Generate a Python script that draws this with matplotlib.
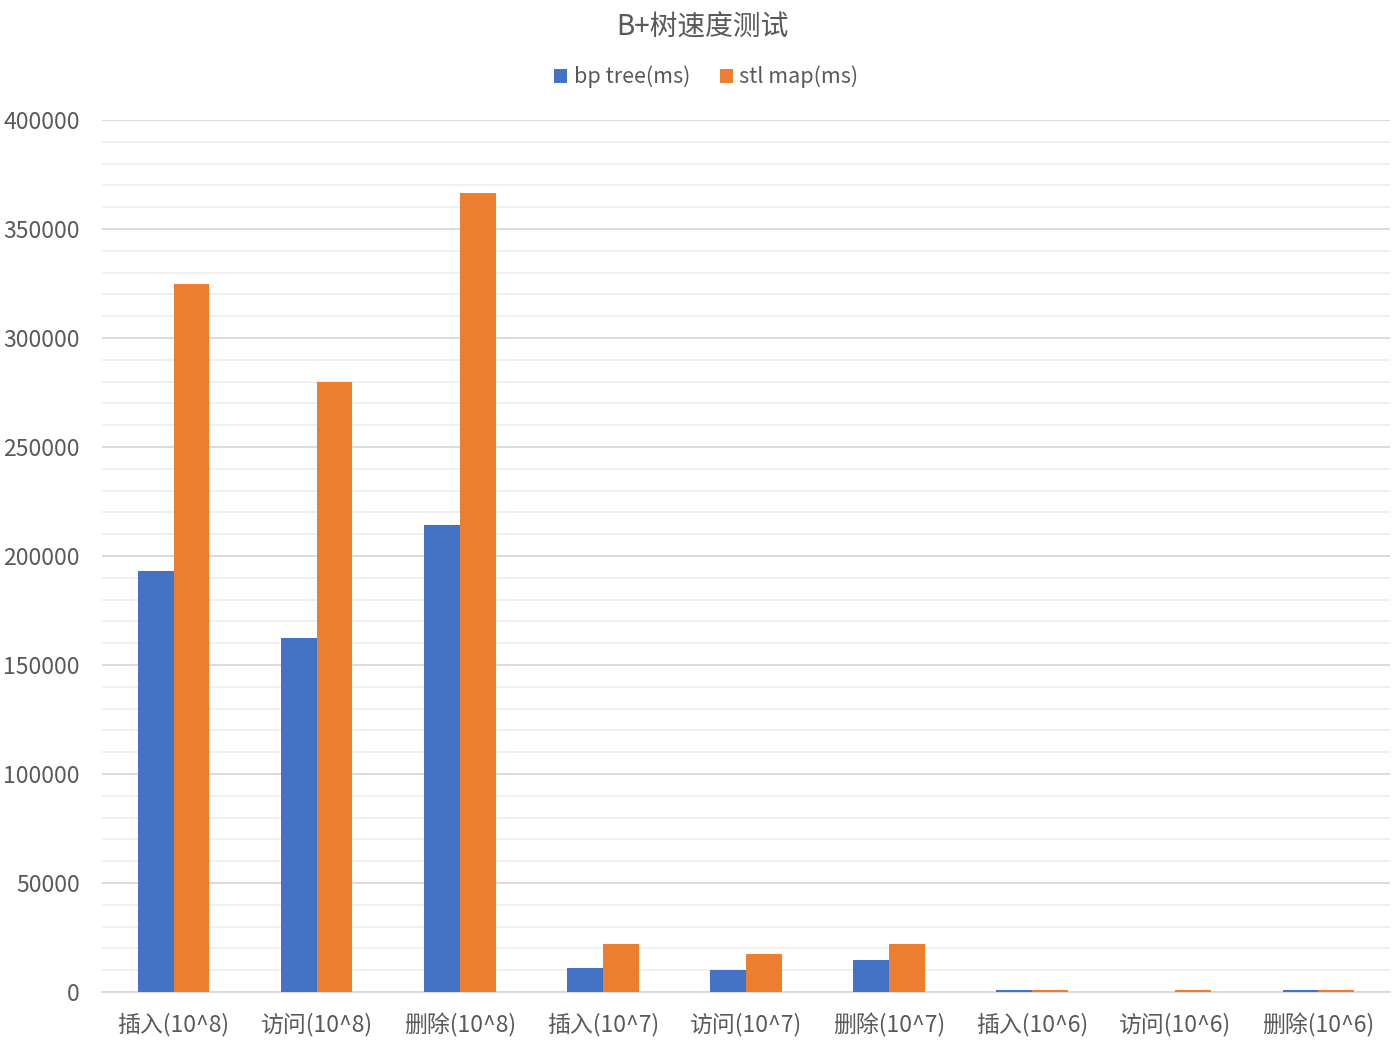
import numpy as np
import matplotlib
matplotlib.use("Agg")
import matplotlib.pyplot as plt
from matplotlib.ticker import MultipleLocator

plt.rcParams['font.family'] = ['Noto Sans CJK SC', 'DejaVu Sans']

# data
categories = ['插入(10^8)', '访问(10^8)', '删除(10^8)',
              '插入(10^7)', '访问(10^7)', '删除(10^7)',
              '插入(10^6)', '访问(10^6)', '删除(10^6)']
bp_tree = [193000, 162500, 214000, 11000, 10100, 14800, 1000, 200, 1000]
stl_map = [325000, 280000, 366500, 22000, 17500, 22000, 1000, 1000, 1000]
series_names = ['bp tree(ms)', 'stl map(ms)']

text_col = '#595959'
blue = '#4472C4'
orange = '#ED7D31'

fig = plt.figure(figsize=(13.96, 10.44), dpi=100)
ax = fig.add_axes([102 / 1396, 1 - 992 / 1044, 1288 / 1396, 872 / 1044])

x = np.arange(len(categories))
w = 0.25
ax.bar(x - w / 2, bp_tree, width=w, color=blue, label=series_names[0], zorder=3)
ax.bar(x + w / 2, stl_map, width=w, color=orange, label=series_names[1], zorder=3)

ax.set_xlim(-0.5, len(categories) - 0.5)
ax.set_ylim(0, 400000)
ax.yaxis.set_major_locator(MultipleLocator(50000))
ax.yaxis.set_minor_locator(MultipleLocator(10000))
ax.grid(axis='y', which='major', color='#d9d9d9', linewidth=1.3, zorder=0)
ax.grid(axis='y', which='minor', color='#efefef', linewidth=1.3, zorder=0)
ax.set_axisbelow(True)

for s in ['top', 'right', 'left']:
    ax.spines[s].set_visible(False)
ax.spines['bottom'].set_color('#d9d9d9')
ax.spines['bottom'].set_linewidth(1.3)

ax.set_xticks(x)
ax.set_xticklabels(categories)
ax.tick_params(axis='both', which='both', length=0, labelsize=16.5, colors=text_col)
ax.tick_params(axis='y', pad=16)
ax.tick_params(axis='x', pad=15)

fig.text(0.5035, 1 - 28 / 1044, 'B+树速度测试', ha='center', va='center',
         fontsize=20, color=text_col)

leg = fig.legend(loc='center', bbox_to_anchor=(0.506, 1 - 77 / 1044), ncol=2,
                 frameon=False, fontsize=15.5, handlelength=0.6, handleheight=0.6,
                 handletextpad=0.3, columnspacing=1.4)
for t in leg.get_texts():
    t.set_color(text_col)

fig.savefig('out.png', dpi=100)
